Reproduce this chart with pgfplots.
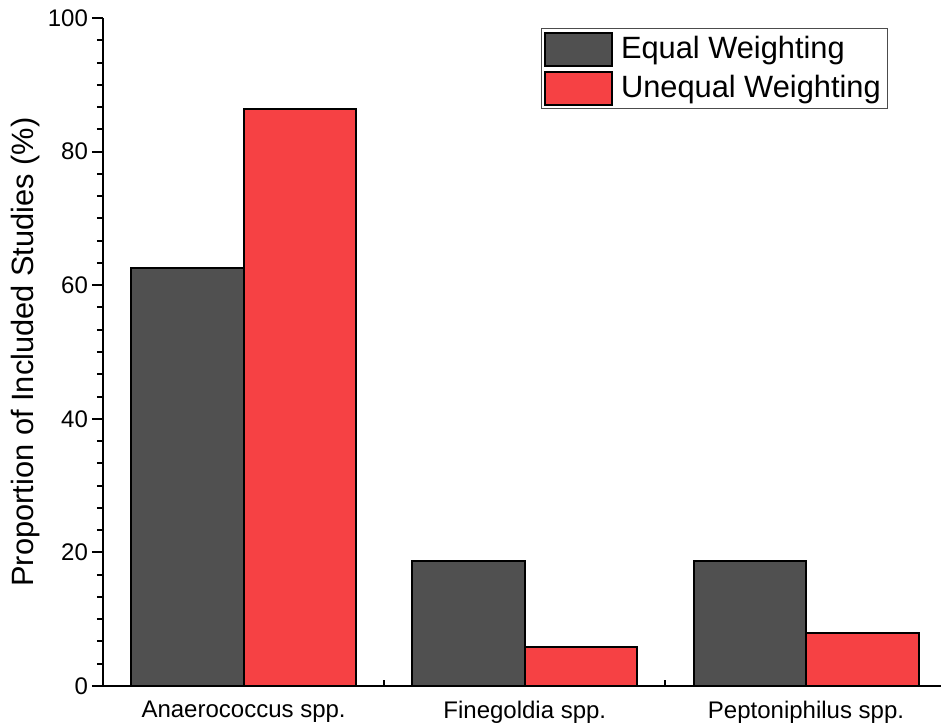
\documentclass[border=0pt]{standalone}
\usepackage{fontspec}
\setmainfont{Liberation Sans}
\usepackage{pgfplots}
\pgfplotsset{compat=1.18}
\definecolor{eqc}{RGB}{80,80,80}
\definecolor{uneqc}{RGB}{246,65,68}
\pgfplotsset{mylegend/.style={legend image code/.code={\draw[##1, line width=1pt] (0pt,-8.3pt) rectangle (33.5pt,8.3pt); \path (35.5pt,0pt);}}}
\begin{document}
\begin{tikzpicture}
\path[use as bounding box] (-51.5pt,-20pt) rectangle (419pt,343pt);
\begin{axis}[
  at={(0,0)}, anchor=south west,
  scale only axis, width=419pt, height=334pt,
  xmin=0.5, xmax=3.48, ymin=0, ymax=100,
  axis lines*=left,
  axis line style={line width=1pt},
  tick style={line width=1pt, black},
  tick align=outside,
  major tick length=5.5pt,
  minor tick length=3pt,
  ytick={0,20,40,60,80,100},
  minor y tick num=5,
  xtick={1,2,3},
  xticklabels={Anaerococcus spp.,Finegoldia spp.,Peptoniphilus spp.},
  xtick style={draw=none},
  extra x ticks={1.5,2.5},
  extra x tick labels={},
  extra x tick style={tick align=inside, major tick length=3pt, xtick style={draw=black}},
  /pgf/number format/assume math mode=true,
  ticklabel style={font=\fontsize{12}{14}\selectfont},
  xticklabel style={yshift=1.5pt},
  yticklabel style={xshift=1.5pt},
  ylabel={Proportion of Included Studies (\%)},
  every axis y label/.style={at={(axis description cs:-0.0919,0.5)}, rotate=90, anchor=center, font=\fontsize{15.4}{18}\selectfont},
  legend style={
    at={(axis description cs:0.937,0.985)}, anchor=north east,
    font=\fontsize{15.4}{18}\selectfont,
    draw=black!70, line width=0.5pt,
    inner xsep=1.5pt, inner ysep=1.5pt, row sep=2pt,
    cells={anchor=west},
  },
  ybar, bar width=0.4,
]
\addplot[fill=eqc, draw=black, line width=1pt, bar shift=-0.2, mylegend] coordinates {(1,62.5) (2,18.75) (3,18.75)};
\addplot[fill=uneqc, draw=black, line width=1pt, bar shift=0.2, mylegend] coordinates {(1,86.4) (2,5.9) (3,7.9)};
\legend{Equal Weighting, Unequal Weighting}
\end{axis}
\end{tikzpicture}
\end{document}
